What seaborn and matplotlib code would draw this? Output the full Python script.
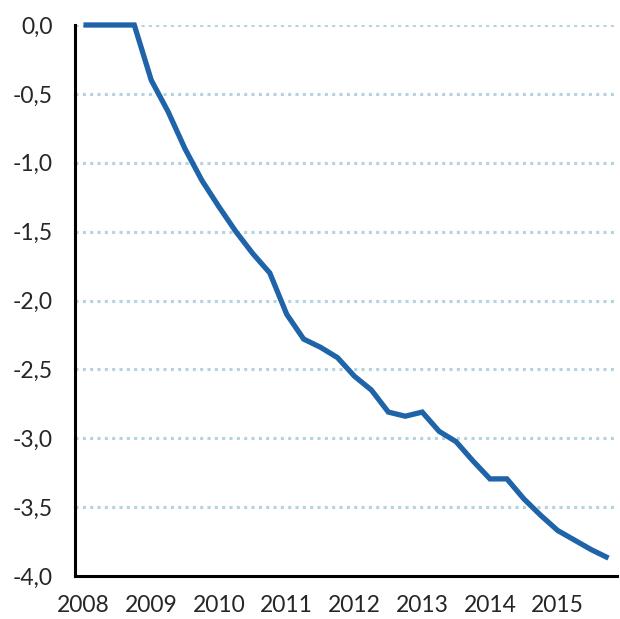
import matplotlib
matplotlib.use("Agg")
import matplotlib.pyplot as plt
import seaborn as sns
import numpy as np
import pandas as pd

# Quarterly data 2008Q1 .. 2015Q4
years = ["2008", "2009", "2010", "2011", "2012", "2013", "2014", "2015"]
quarters = ["Q1", "Q2", "Q3", "Q4"]
values = [0.0, 0.0, 0.0, 0.0,
          -0.40, -0.63, -0.90, -1.13,
          -1.32, -1.50, -1.66, -1.80,
          -2.10, -2.28, -2.34, -2.415,
          -2.55, -2.65, -2.81, -2.84,
          -2.81, -2.95, -3.025, -3.165,
          -3.295, -3.295, -3.44, -3.56,
          -3.67, -3.74, -3.81, -3.87]
y_ticks = [0.0, -0.5, -1.0, -1.5, -2.0, -2.5, -3.0, -3.5, -4.0]

periods = [f"{y} {q}" for y in years for q in quarters]
df = pd.DataFrame({"period": periods, "pos": np.arange(len(periods)), "value": values})

sns.set_style("white")
plt.rcParams["font.family"] = ["Lato", "DejaVu Sans"]

fig = plt.figure(figsize=(6.2, 6.19), dpi=100)
ax = fig.add_axes([75 / 620, (619 - 576) / 619, (617 - 75) / 620, (576 - 25) / 619])

for v in y_ticks:
    if v > -4.0:
        ax.axhline(v, color="#b3d3e0", linestyle=(0, (1, 1.4)), linewidth=2.2, zorder=1)

sns.lineplot(data=df, x="pos", y="value", ax=ax, color="#1f63a8", linewidth=3.8,
             solid_capstyle="butt", solid_joinstyle="miter", zorder=3, clip_on=False)

ax.set_xlim(-0.5, len(periods) - 0.5)
ax.set_ylim(-4.0, 0.0)

ax.set_yticks(y_ticks)
ax.set_yticklabels([f"{v:.1f}".replace(".", ",") for v in y_ticks], fontsize=16.5, color="#262626")

# year labels at first quarter of each year, tick marks at year boundaries
ax.set_xticks(np.arange(0, len(periods), 4))
ax.set_xticklabels(years, fontsize=16.5, color="#262626")
ax.set_xticks(np.arange(-0.5, len(periods), 4), minor=True)
ax.tick_params(axis="x", which="major", length=0, pad=14)
ax.tick_params(axis="x", which="minor", length=6, width=2, color="black", direction="out")
ax.tick_params(axis="y", length=6, width=2, color="black", direction="out", pad=10)

ax.set_xlabel("")
ax.set_ylabel("")
for s in ["top", "right"]:
    ax.spines[s].set_visible(False)
for s in ["left", "bottom"]:
    ax.spines[s].set_color("black")
    ax.spines[s].set_linewidth(2.2)
ax.grid(False)

fig.savefig("out.png", dpi=100)
